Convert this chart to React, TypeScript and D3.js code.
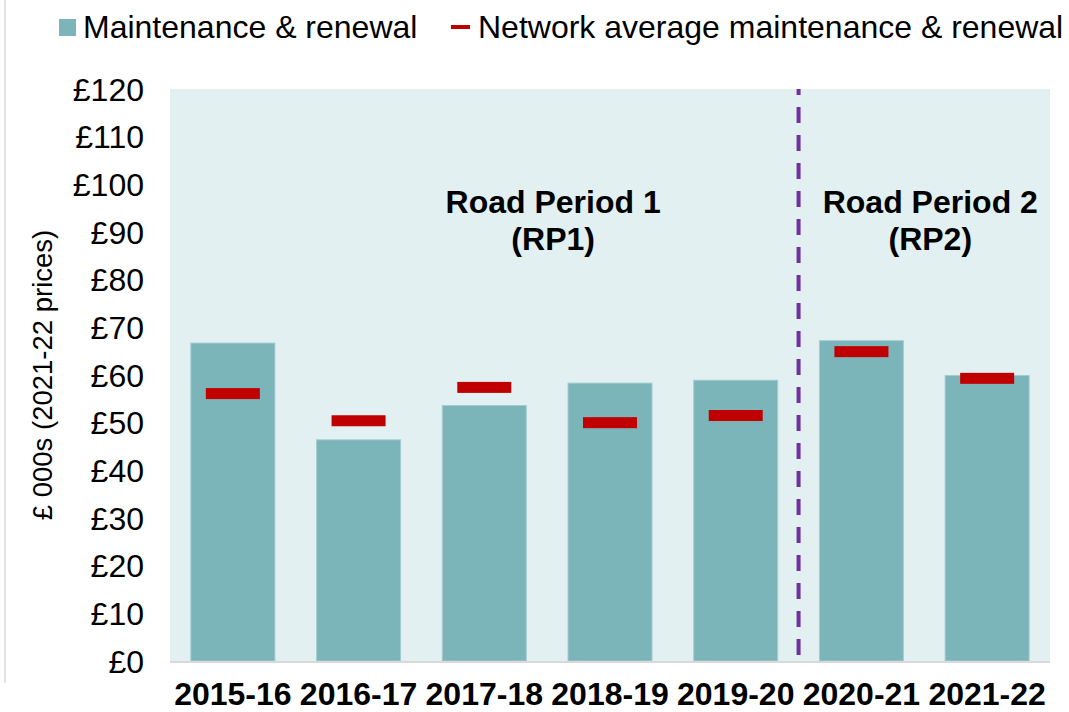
import React from 'react';
import { scaleBand, scaleLinear, range } from 'd3';

// chart values
const years = ['2015-16', '2016-17', '2017-18', '2018-19', '2019-20', '2020-21', '2021-22'];
const maintenance = [66.7, 46.4, 53.6, 58.3, 58.9, 67.2, 59.9];
const networkAverage = [56.1, 50.4, 57.4, 50.0, 51.5, 64.9, 59.3];
const yTicks = range(0, 121, 10);
const seriesNames = ['Maintenance & renewal', 'Network average maintenance & renewal'];
const periods = [
	{ lines: ['Road Period 1', '(RP1)'], between: ['2017-18', '2018-19'] },
	{ lines: ['Road Period 2', '(RP2)'], between: ['2020-21', '2021-22'] }
];

const W = 1069;
const H = 712;
const margin = { left: 170, right: 19, top: 89, bottom: 51 };
const font = '"Liberation Sans", Arial, sans-serif';

export default function App() {
	const x = scaleBand<string>()
		.domain(years)
		.range([margin.left, W - margin.right])
		.paddingInner(0.332)
		.paddingOuter(0.166);

	const y = scaleLinear()
		.domain([0, 120])
		.range([H - margin.bottom, margin.top]);

	const bw = x.bandwidth();
	const step = x.step();
	const center = (d: string) => (x(d) ?? 0) + bw / 2;
	const markW = 54;
	const markH = 11;
	// divider sits between RP1 and RP2 categories
	const divX = (x('2019-20') ?? 0) + bw + (step - bw) / 2;

	return (
		<svg width={W} height={H} style={{ position: 'absolute', left: 0, top: 0 }} fontFamily={font}>
			<rect width={W} height={H} fill="#ffffff" />
			<line x1={5} x2={5} y1={0} y2={683} stroke="#D9D9D9" strokeWidth={1.5} />

			{/* legend */}
			<g>
				<rect x={59} y={19} width={17} height={17} fill="#7BB4B9" />
				<text x={83} y={38} fontSize={32} fill="#000">{seriesNames[0]}</text>
				<rect x={451} y={25} width={19} height={4} fill="#C00000" />
				<text x={478} y={38} fontSize={32} fill="#000">{seriesNames[1]}</text>
			</g>

			{/* plot background */}
			<rect
				x={margin.left}
				y={margin.top}
				width={W - margin.right - margin.left}
				height={H - margin.bottom - margin.top}
				fill="#E2F0F2"
			/>

			{/* bars */}
			{years.map((d, i) => (
				<rect
					key={d}
					x={x(d)}
					y={y(maintenance[i])}
					width={bw}
					height={y(0) - y(maintenance[i])}
					fill="#7BB4B9"
					stroke="#A3CCD0"
					strokeWidth={1}
				/>
			))}

			{/* network average markers */}
			{years.map((d, i) => (
				<rect
					key={'m' + d}
					x={center(d) - markW / 2}
					y={y(networkAverage[i]) - markH / 2}
					width={markW}
					height={markH}
					fill="#C00000"
				/>
			))}

			{/* baseline */}
			<line x1={margin.left} x2={W - margin.right} y1={y(0) + 1} y2={y(0) + 1} stroke="#D9D9D9" strokeWidth={2} />

			{/* RP divider */}
			<line
				x1={divX}
				x2={divX}
				y1={y(120)}
				y2={y(0)}
				stroke="#7030A0"
				strokeWidth={4}
				strokeDasharray="16 12"
				strokeDashoffset={10}
			/>

			{/* y ticks */}
			{yTicks.map(t => (
				<text key={t} x={144} y={y(t)} dy="0.36em" textAnchor="end" fontSize={32} fill="#000">
					{'£' + t}
				</text>
			))}

			{/* y title */}
			<text
				transform={`translate(42,${(y(0) + y(120)) / 2}) rotate(-90)`}
				textAnchor="middle"
				dy="0.36em"
				fontSize={27.5}
				fill="#000"
			>
				£ 000s (2021-22 prices)
			</text>

			{/* x labels */}
			{years.map(d => (
				<text key={'x' + d} x={center(d)} y={705} textAnchor="middle" fontSize={32} fontWeight="bold" fill="#000">
					{d}
				</text>
			))}

			{/* period annotations */}
			{periods.map(p => {
				const cx = (center(p.between[0]) + center(p.between[1])) / 2 + 6;
				return (
					<text key={p.lines[0]} x={cx} textAnchor="middle" fontSize={32} fontWeight="bold" fill="#000">
						<tspan x={cx} y={y(94)}>{p.lines[0]}</tspan>
						<tspan x={cx} y={y(86.2)}>{p.lines[1]}</tspan>
					</text>
				);
			})}
		</svg>
	);
}
